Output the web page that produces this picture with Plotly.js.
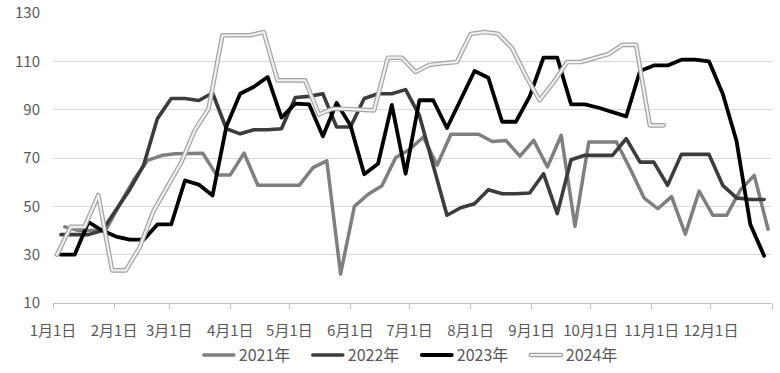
<!DOCTYPE html>
<html>
<head>
<meta charset="utf-8">
<script src="https://cdn.plot.ly/plotly-3.0.1.min.js"></script>
<style>
html,body{margin:0;padding:0;background:#fff;}
#chart{width:780px;height:373px;}
.scatterlayer path.js-line, .legend path.js-line{stroke-linejoin:round;stroke-linecap:round;}
</style>
</head>
<body>
<div id="chart"></div>
<script>
// Weekly observation dates mapped onto one common calendar year for the shared axis
const weeks2021 = ["2023-01-07","2023-01-14","2023-01-21","2023-01-28","2023-02-04","2023-02-11","2023-02-18","2023-02-25","2023-03-04","2023-03-11","2023-03-18","2023-03-25","2023-04-01","2023-04-08","2023-04-15","2023-04-22","2023-04-29","2023-05-06","2023-05-13","2023-05-20","2023-05-27","2023-06-03","2023-06-10","2023-06-17","2023-06-24","2023-07-01","2023-07-08","2023-07-15","2023-07-22","2023-07-29","2023-08-05","2023-08-12","2023-08-19","2023-08-26","2023-09-02","2023-09-09","2023-09-16","2023-09-23","2023-09-30","2023-10-07","2023-10-14","2023-10-21","2023-10-28","2023-11-04","2023-11-11","2023-11-18","2023-11-25","2023-12-02","2023-12-09","2023-12-16","2023-12-23","2023-12-30"];
const weeks2022 = ["2023-01-05","2023-01-12","2023-01-19","2023-01-26","2023-02-02","2023-02-09","2023-02-16","2023-02-23","2023-03-02","2023-03-09","2023-03-16","2023-03-23","2023-03-30","2023-04-06","2023-04-13","2023-04-20","2023-04-27","2023-05-04","2023-05-11","2023-05-18","2023-05-25","2023-06-01","2023-06-08","2023-06-15","2023-06-22","2023-06-29","2023-07-06","2023-07-13","2023-07-20","2023-07-27","2023-08-03","2023-08-10","2023-08-17","2023-08-24","2023-08-31","2023-09-07","2023-09-14","2023-09-21","2023-09-28","2023-10-05","2023-10-12","2023-10-19","2023-10-26","2023-11-02","2023-11-09","2023-11-16","2023-11-23","2023-11-30","2023-12-07","2023-12-14","2023-12-21","2023-12-28"];
const weeks2023 = weeks2022.slice();
const weeks2024 = ["2023-01-03","2023-01-10","2023-01-17","2023-01-24","2023-01-31","2023-02-07","2023-02-14","2023-02-21","2023-02-28","2023-03-07","2023-03-14","2023-03-21","2023-03-28","2023-04-04","2023-04-11","2023-04-18","2023-04-25","2023-05-02","2023-05-09","2023-05-16","2023-05-23","2023-05-30","2023-06-06","2023-06-13","2023-06-20","2023-06-27","2023-07-04","2023-07-11","2023-07-18","2023-07-25","2023-08-01","2023-08-08","2023-08-15","2023-08-22","2023-08-29","2023-09-05","2023-09-12","2023-09-19","2023-09-26","2023-10-03","2023-10-10","2023-10-17","2023-10-24","2023-10-31","2023-11-07"];

const values2021 = [41.5,40,40,40.5,51,61,69,71,71.8,72,72,63,63,72,58.7,58.7,58.7,58.7,66,68.8,22,50,55,58.5,70.2,73.5,78.7,67,79.8,79.8,79.8,76.8,77.2,70.8,77.3,66.3,79.4,41.8,76.6,76.6,76.6,65.5,53.5,49,54,38.5,56.3,46.3,46.3,56.8,62.8,40.5];
const values2022 = [38.3,38.3,38.3,40,48.5,57,67,86.3,94.6,94.6,93.8,96.9,82.1,80,81.7,81.7,82.1,95,95.5,96.6,82.8,82.8,94.6,96.6,96.6,98.3,87.6,67,46.3,49.4,51.1,56.9,55.2,55.2,55.5,63.5,47,69.3,71.1,71.1,71.1,78,68.3,68.3,58.7,71.5,71.5,71.5,58.7,53.5,52.8,52.8];
const values2023 = [30,30,43.5,40,37.5,36.2,36.2,42.5,42.5,60.7,59,54.5,83,96.6,99.5,103.5,86.7,92.5,92.2,79,92.8,83.5,63.3,67.6,92,63.5,93.9,93.9,82.4,94,106,103.2,85,85,95.5,111.5,111.5,92.2,92.2,90.8,89,87.2,106,108.3,108.3,110.7,110.7,110,96.6,77,42.5,29.5];
const values2024 = [30,41.5,41.5,54.6,23.5,23.5,33,48,58,68,81.5,90.4,120.8,120.8,120.8,122.1,102.1,102.1,102.1,88,90.4,90.3,90.1,89.7,111.5,111.5,105.6,108.5,109.2,109.7,121.3,122.1,121.4,115.5,104,93.9,101.2,109.7,109.7,111.5,113,116.8,116.8,83.5,83.5];

const seriesNames = ["2021年","2022年","2023年","2024年"];
const tickDates = ["2023-01-01","2023-02-01","2023-03-01","2023-04-01","2023-05-01","2023-06-01","2023-07-01","2023-08-01","2023-09-01","2023-10-01","2023-11-01","2023-12-01","2024-01-01"];
const tickLabels = ["1月1日","2月1日","3月1日","4月1日","5月1日","6月1日","7月1日","8月1日","9月1日","10月1日","11月1日","12月1日",""];
const yTicks = [10,30,50,70,90,110,130];

const FONT = '"Noto Sans CJK SC", "Noto Sans", sans-serif';
const TXT = '#595959';
const OUTLINE = '#a3a3a3', INNER = '#efefef';

const traces = [
  {x: weeks2021, y: values2021, name: seriesNames[0], type: 'scatter', mode: 'lines',
   line: {color: '#7f7f7f', width: 3.5}},
  {x: weeks2022, y: values2022, name: seriesNames[1], type: 'scatter', mode: 'lines',
   line: {color: '#3c3c3c', width: 3.6}},
  {x: weeks2023, y: values2023, name: seriesNames[2], type: 'scatter', mode: 'lines',
   line: {color: '#000000', width: 3.8}},
  {x: weeks2024, y: values2024, name: seriesNames[3], type: 'scatter', mode: 'lines',
   line: {color: OUTLINE, width: 4.6}},
  {x: weeks2024, y: values2024, name: seriesNames[3] + '_inner', type: 'scatter', mode: 'lines',
   showlegend: false, hoverinfo: 'skip', line: {color: INNER, width: 2.2}}
];

const layout = {
  width: 780, height: 373,
  margin: {l: 53, r: 8, t: 13, b: 70, autoexpand: false},
  paper_bgcolor: '#ffffff', plot_bgcolor: '#ffffff',
  font: {family: FONT, color: TXT, size: 15},
  showlegend: true,
  legend: {orientation: 'h', x: 0.506, xanchor: 'center', yref: 'container', y: 0.048, yanchor: 'middle',
           font: {family: FONT, size: 16, color: TXT}, traceorder: 'normal', itemwidth: 30,
           entrywidth: 64, entrywidthmode: 'pixels'},
  xaxis: {
    type: 'date', range: ['2023-01-01', '2024-01-01'],
    tickmode: 'array', tickvals: tickDates, ticktext: tickLabels,
    ticks: 'outside', ticklen: 5, tickcolor: '#bfbfbf', tickwidth: 1,
    showgrid: false, showline: true, linecolor: '#bfbfbf', linewidth: 1,
    zeroline: false, tickfont: {family: FONT, size: 15, color: TXT}, tickangle: 0,
    ticklabelstandoff: 9
  },
  yaxis: {
    range: [10, 130], tickmode: 'array', tickvals: yTicks,
    showgrid: true, gridcolor: '#d9d9d9', gridwidth: 1,
    showline: false, zeroline: false, ticks: '',
    tickfont: {family: FONT, size: 15, color: TXT}, ticklabelstandoff: 12
  }
};

Plotly.newPlot('chart', traces, layout, {staticPlot: true}).then(function(gd){
  const items = Array.from(gd.querySelectorAll('.legend .traces'));
  items.forEach(function(it){
    const t = it.querySelector('.legendtext');
    if (t && t.textContent === seriesNames[3]) {
      const p = it.querySelector('path.js-line');
      if (p) {
        const c = p.cloneNode(true);
        c.style.stroke = INNER;
        c.style.strokeWidth = '2.2px';
        p.parentNode.insertBefore(c, p.nextSibling);
      }
    }
  });
});
</script>
</body>
</html>
